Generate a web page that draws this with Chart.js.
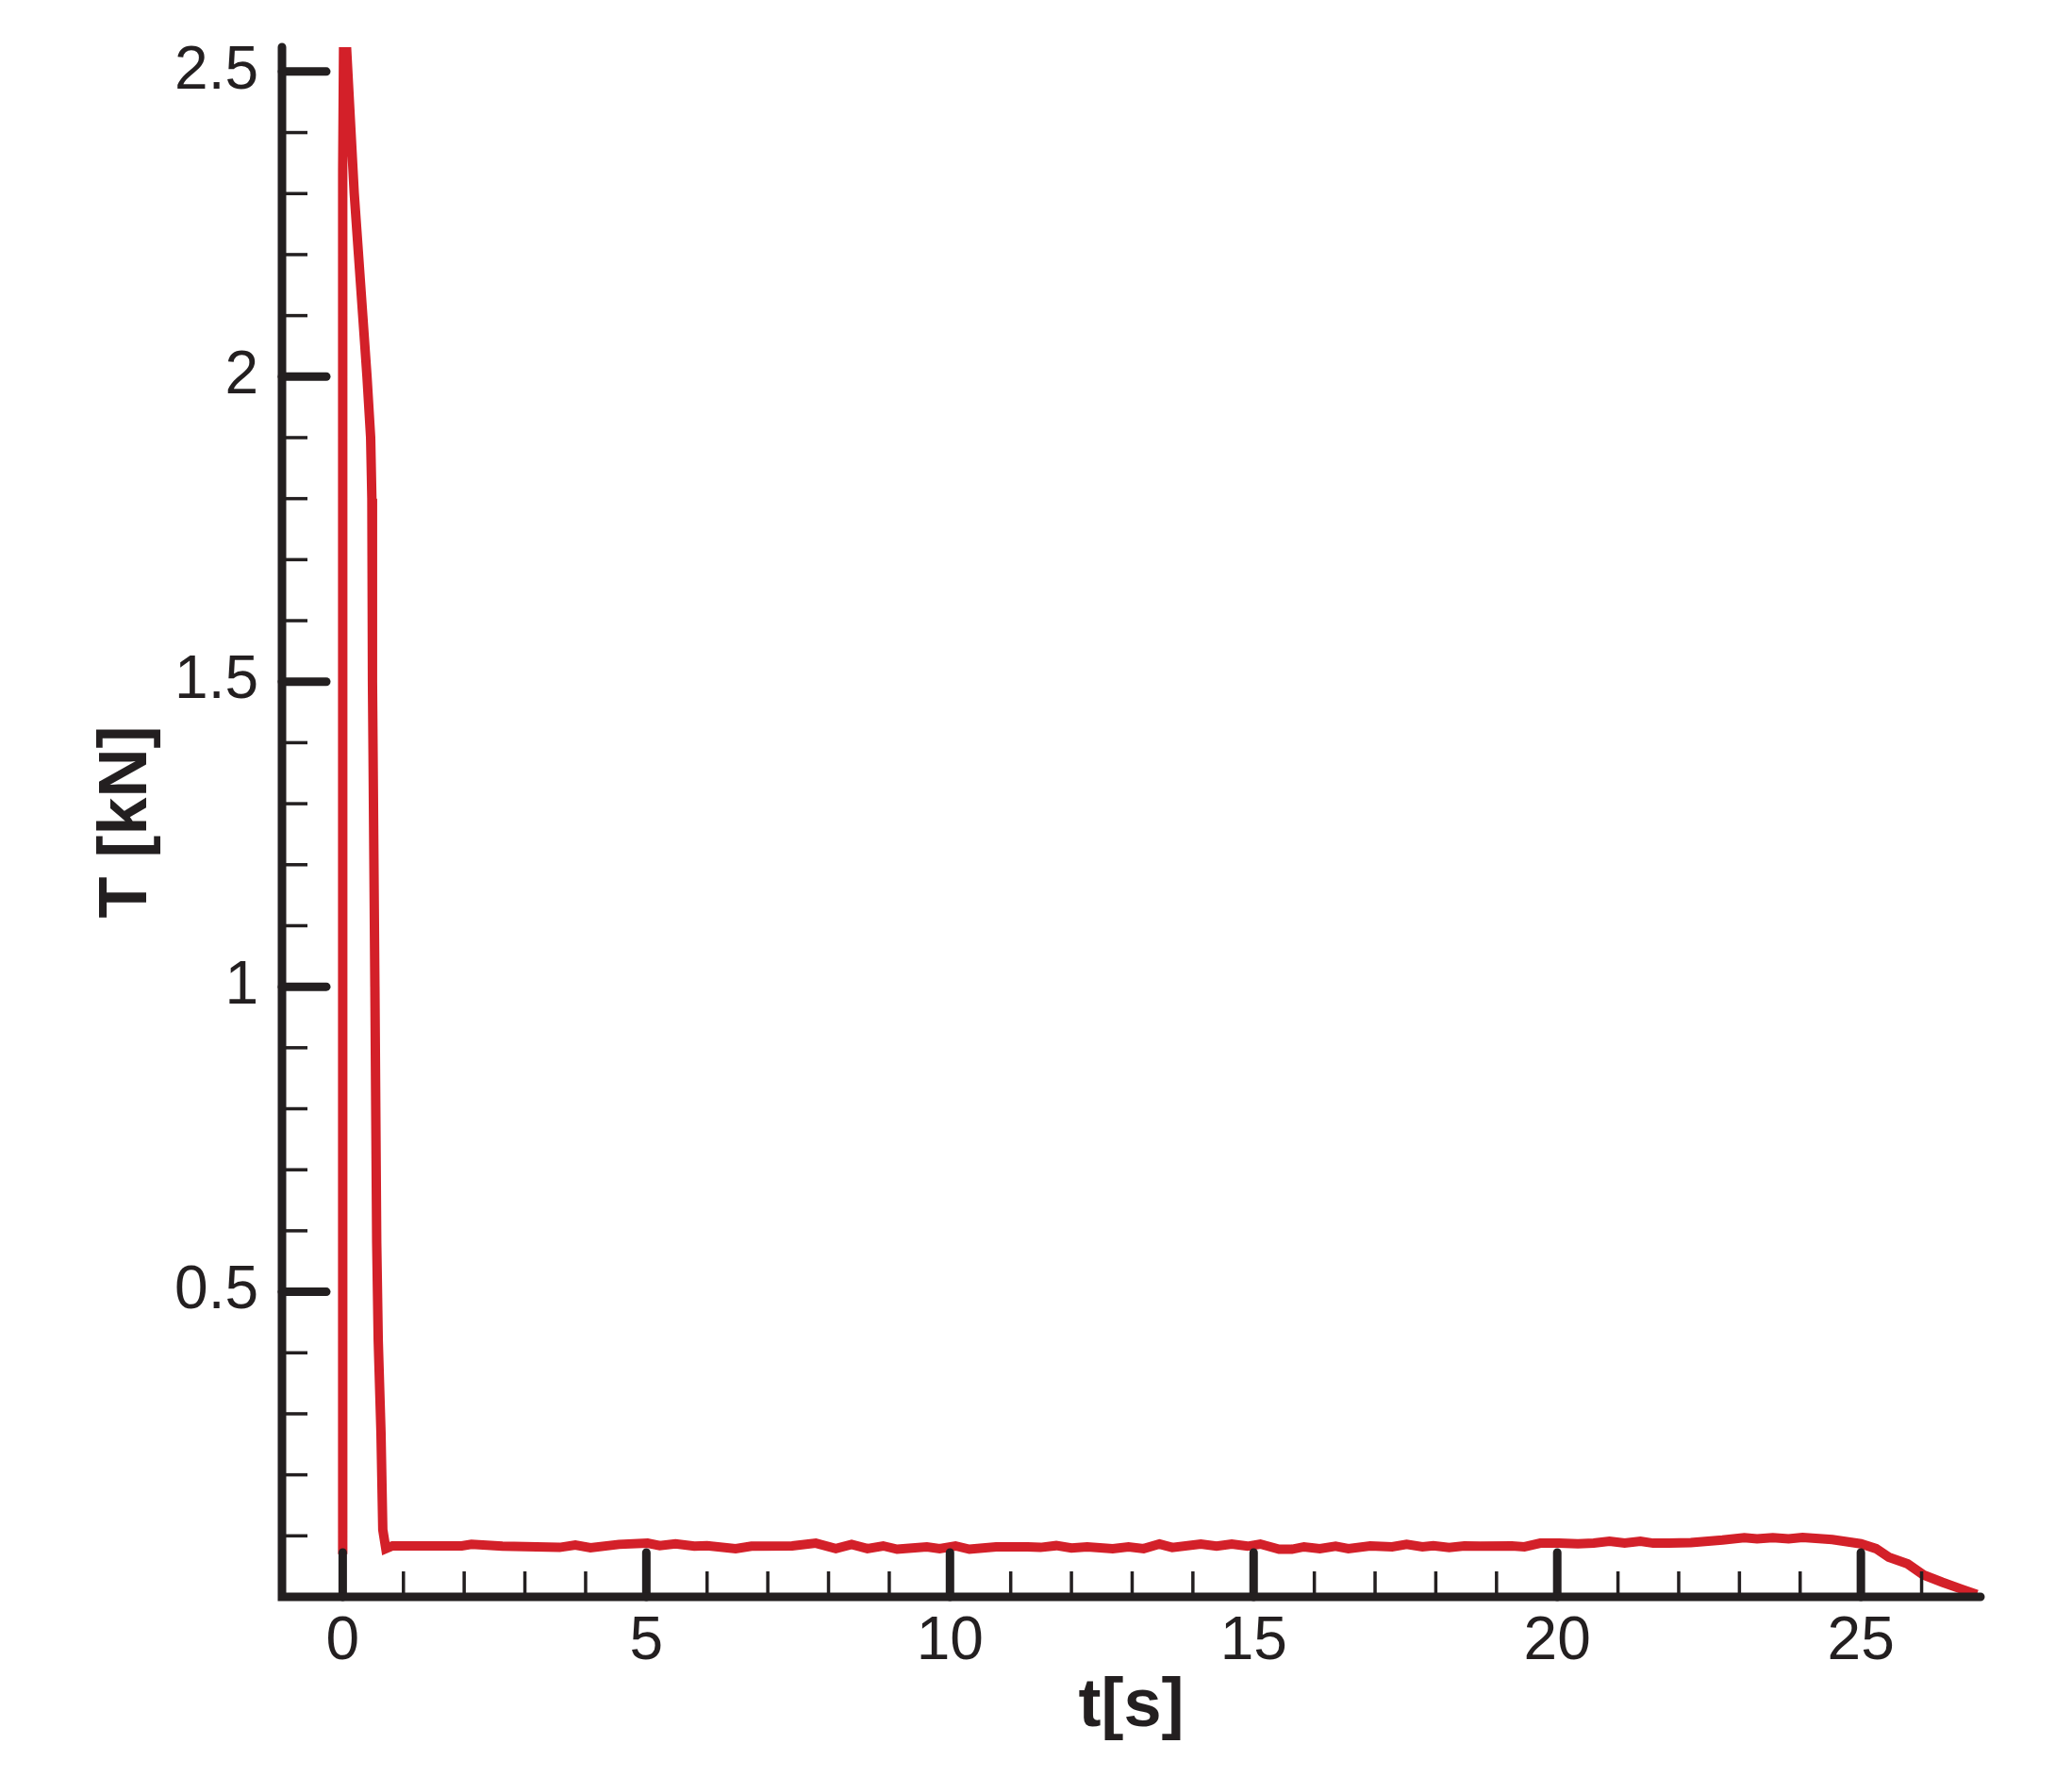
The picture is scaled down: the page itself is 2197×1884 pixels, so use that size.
<!DOCTYPE html>
<html>
<head>
<meta charset="utf-8">
<title>T [kN] vs t[s]</title>
<script src="https://cdn.jsdelivr.net/npm/chart.js@4"></script>
<style>
  html, body { margin: 0; padding: 0; background: #fff; }
  canvas { display: block; }
</style>
</head>
<body>
<canvas id="thrustChart" width="2197" height="1884"></canvas>
<script>
// time [s] and tension [kN]
const timeS = [
  0, 0, 0.02, 0.19, 0.26, 0.33, 0.40, 0.46, 0.48, 0.49, 0.50, 0.53, 0.56, 0.585, 0.63, 0.66, 0.71,
  0.82, 1.96, 2.12, 2.63, 3.57, 3.83, 4.08, 4.55, 5.02, 5.22, 5.48, 5.79, 6.0, 6.47, 6.73,
  7.4, 7.79, 8.12, 8.38, 8.64, 8.9, 9.13, 9.62, 9.83, 10.09, 10.32, 10.76, 11.28, 11.49, 11.75,
  12.0, 12.26, 12.68, 12.94, 13.19, 13.45, 13.66, 14.13, 14.39, 14.64, 14.9, 15.11, 15.42, 15.63,
  15.83, 16.09, 16.35, 16.56, 16.92, 17.28, 17.52, 17.78, 17.96, 18.22, 18.47, 18.73, 19.25, 19.46,
  19.72, 20.03, 20.34, 20.6, 20.86, 21.11, 21.37, 21.58, 21.84, 22.2, 22.72, 23.08, 23.29, 23.55,
  23.81, 24.04, 24.53, 25.0, 25.25, 25.46, 25.77, 26.03, 26.34, 26.65, 26.91
];
const tensionKN = [
  0.07, 2.34, 2.62, 2.30, 2.20, 2.10, 2.00, 1.90, 1.80, 1.50, 1.38, 1.00, 0.58, 0.42, 0.27, 0.11, 0.079,
  0.0835, 0.0835, 0.086, 0.083, 0.081, 0.085, 0.0805, 0.086, 0.088, 0.084, 0.087, 0.083, 0.084, 0.079, 0.083,
  0.0835, 0.088, 0.079, 0.086, 0.079, 0.0835, 0.078, 0.082, 0.079, 0.0835, 0.078, 0.082, 0.082, 0.081, 0.084,
  0.080, 0.082, 0.079, 0.082, 0.079, 0.0865, 0.081, 0.0865, 0.083, 0.0865, 0.083, 0.0865, 0.078, 0.078,
  0.082, 0.079, 0.083, 0.079, 0.0835, 0.082, 0.086, 0.082, 0.084, 0.081, 0.0835, 0.083, 0.0835, 0.082,
  0.088, 0.088, 0.087, 0.088, 0.091, 0.088, 0.091, 0.088, 0.088, 0.089, 0.093, 0.097, 0.095, 0.097,
  0.095, 0.0975, 0.094, 0.087, 0.079, 0.065, 0.054, 0.036, 0.024, 0.013, 0.004
];

const xTickLabels = [0, 5, 10, 15, 20, 25];
const yTickLabels = [0.5, 1, 1.5, 2, 2.5];
const xMinorTicks = [1, 2, 3, 4, 6, 7, 8, 9, 11, 12, 13, 14, 16, 17, 18, 19, 21, 22, 23, 24, 26];
const yMinorTicks = [0.1, 0.2, 0.3, 0.4, 0.6, 0.7, 0.8, 0.9, 1.1, 1.2, 1.3, 1.4,
                     1.6, 1.7, 1.8, 1.9, 2.1, 2.2, 2.3, 2.4];

const INK = '#231f20';
const RED = '#d32029';
const FONT = "'Liberation Sans', Arial, Helvetica, sans-serif";

// ticks point inwards, like the original plot
const inwardAxes = {
  id: 'inwardAxes',
  afterDatasetsDraw(chart) {
    const { ctx, chartArea: a, scales: { x, y } } = chart;
    const seg = (x1, y1, x2, y2) => {
      ctx.beginPath();
      ctx.moveTo(x1, y1);
      ctx.lineTo(x2, y2);
      ctx.stroke();
    };
    ctx.save();
    ctx.strokeStyle = INK;

    ctx.lineCap = 'butt';
    ctx.lineWidth = 3.5;
    xMinorTicks.forEach(t => {
      const px = x.getPixelForValue(t);
      seg(px, a.bottom, px, a.bottom - 27);
    });
    yMinorTicks.forEach(v => {
      const py = y.getPixelForValue(v);
      seg(a.left, py, a.left + 27, py);
    });

    ctx.lineCap = 'round';
    ctx.lineWidth = 9;
    xTickLabels.forEach(t => {
      const px = x.getPixelForValue(t);
      seg(px, a.bottom, px, a.bottom - 47);
    });
    yTickLabels.forEach(v => {
      const py = y.getPixelForValue(v);
      seg(a.left, py, a.left + 47, py);
    });

    ctx.beginPath();
    ctx.moveTo(a.left, a.top);
    ctx.lineTo(a.left, a.bottom);
    ctx.lineTo(a.right, a.bottom);
    ctx.stroke();
    ctx.restore();
  }
};

const points = timeS.map((t, i) => ({ x: t, y: tensionKN[i] }));

new Chart(document.getElementById('thrustChart'), {
  type: 'line',
  data: {
    datasets: [{
      data: points,
      borderColor: RED,
      borderWidth: 10,
      pointRadius: 0,
      tension: 0,
      fill: false,
      clip: 0
    }]
  },
  options: {
    responsive: false,
    devicePixelRatio: 1,
    animation: false,
    layout: { padding: { left: 0, top: 50, right: 97, bottom: 0 } },
    plugins: { legend: { display: false }, tooltip: { enabled: false } },
    scales: {
      x: {
        type: 'linear',
        min: -1,
        max: 26.97,
        afterBuildTicks: s => { s.ticks = xTickLabels.map(v => ({ value: v })); },
        afterFit: s => { s.height = 191; },
        grid: { display: false, drawTicks: false },
        border: { display: false },
        ticks: {
          autoSkip: false,
          maxRotation: 0,
          padding: 10,
          color: INK,
          font: { family: FONT, size: 64 },
          callback: v => String(v)
        },
        title: {
          display: true,
          text: 't[s]',
          color: INK,
          font: { family: FONT, size: 72, weight: 'bold' },
          padding: { top: 0, bottom: 31 }
        }
      },
      y: {
        type: 'linear',
        min: 0,
        max: 2.54,
        afterBuildTicks: s => { s.ticks = yTickLabels.map(v => ({ value: v })); },
        afterFit: s => {
          s.width = 299;
          s.paddingTop = 0;
          s.paddingBottom = 0;
        },
        grid: { display: false, drawTicks: false },
        border: { display: false },
        ticks: {
          autoSkip: false,
          padding: 25,
          color: INK,
          font: { family: FONT, size: 64 },
          callback: v => String(v)
        },
        title: {
          display: true,
          text: 'T [kN]',
          color: INK,
          font: { family: FONT, size: 72, weight: 'bold' },
          padding: { top: 92, bottom: 0 }
        }
      }
    }
  },
  plugins: [inwardAxes]
});
</script>
</body>
</html>
